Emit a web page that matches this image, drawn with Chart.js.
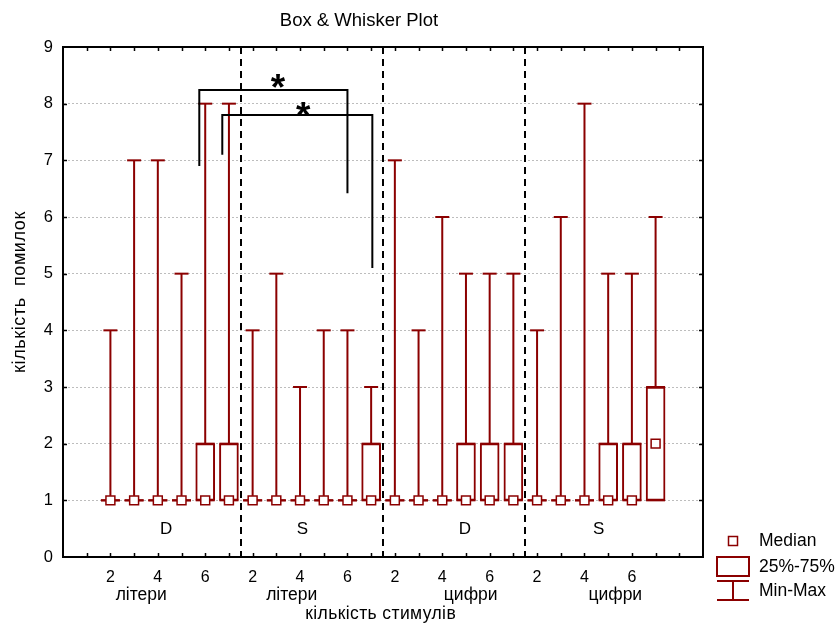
<!DOCTYPE html>
<html>
<head>
<meta charset="utf-8">
<script src="https://cdn.jsdelivr.net/npm/chart.js@4.4.0/dist/chart.umd.min.js"></script>
<style>
  html, body { margin: 0; padding: 0; background: #fff; }
  #wrap { width: 838px; height: 623px; }
</style>
</head>
<body>
<div id="wrap"><canvas id="chart" width="838" height="623"></canvas></div>
<script>
// --- data (x = slot on the axis, one slot per tick) ---
const positions = [2, 3, 4, 5, 6, 7, 8, 9, 10, 11, 12, 13, 14, 15, 16, 17, 18, 19, 20, 21, 22, 23, 24, 25];
const mins    = [1, 1, 1, 1, 1, 1, 1, 1, 1, 1, 1, 1, 1, 1, 1, 1, 1, 1, 1, 1, 1, 1, 1, 1];
const q1s     = [1, 1, 1, 1, 1, 1, 1, 1, 1, 1, 1, 1, 1, 1, 1, 1, 1, 1, 1, 1, 1, 1, 1, 1];
const medians = [1, 1, 1, 1, 1, 1, 1, 1, 1, 1, 1, 1, 1, 1, 1, 1, 1, 1, 1, 1, 1, 1, 1, 2];
const q3s     = [1, 1, 1, 1, 2, 2, 1, 1, 1, 1, 1, 2, 1, 1, 1, 2, 2, 2, 1, 1, 1, 2, 2, 3];
const maxs    = [4, 7, 7, 5, 8, 8, 4, 5, 3, 4, 4, 3, 7, 4, 6, 5, 5, 5, 4, 6, 8, 5, 5, 6];

const xTickPos  = [2, 4, 6, 8, 10, 12, 14, 16, 18, 20, 22, 24];
const xTickText = ['2', '4', '6', '2', '4', '6', '2', '4', '6', '2', '4', '6'];
const groupLetters = ['D', 'S', 'D', 'S'];
const groupStimuli = ['літери', 'літери', 'цифри', 'цифри'];
const separators = [7.5, 13.5, 19.5];

// significance brackets (axis units)
const brackets = [
  { x1: 5.75, x2: 12.0, y: 8.24, yLeft: 6.9, yRight: 6.42, starX: 9.07, starY: 8.43 },
  { x1: 6.72, x2: 13.05, y: 7.8, yLeft: 7.1, yRight: 5.1, starX: 10.13, starY: 7.95 }
];

// --- layout / style ---
const RED = '#8b0000';
const FONT = '"Liberation Sans", Arial, sans-serif';
const letterX = [4.35, 10.1, 16.95, 22.6];
const letterY = 0.49;
const stimuliX = [3.3, 9.65, 17.2, 23.3];

const boxData = positions.map((x, i) => ({ x: x, y: [q1s[i], q3s[i]] }));
const whiskerData = [];
positions.forEach((x, i) => {
  whiskerData.push({ x: x, y: mins[i] }, { x: x, y: maxs[i] }, { x: x, y: null });
});
const capData = positions.map((x, i) => ({ x: x, y: maxs[i] }));
const edgeData = [];
positions.forEach((x, i) => { edgeData.push({ x: x, y: q1s[i] }, { x: x, y: q3s[i] }); });
const medianData = positions.map((x, i) => ({ x: x, y: medians[i] }));

const decor = {
  id: 'decor',
  afterDatasetsDraw(chart) {
    const { ctx, chartArea: a, scales: { x, y } } = chart;
    ctx.save();
    // dashed separators
    ctx.strokeStyle = '#000';
    ctx.lineWidth = 2;
    ctx.setLineDash([7, 5]);
    separators.forEach(s => {
      const px = Math.round(x.getPixelForValue(s));
      ctx.beginPath(); ctx.moveTo(px, a.top); ctx.lineTo(px, a.bottom); ctx.stroke();
    });
    ctx.setLineDash([]);
    // brackets
    ctx.lineWidth = 2;
    brackets.forEach(b => {
      const x1 = x.getPixelForValue(b.x1), x2 = x.getPixelForValue(b.x2);
      const yy = y.getPixelForValue(b.y);
      ctx.beginPath();
      ctx.moveTo(x1, y.getPixelForValue(b.yLeft));
      ctx.lineTo(x1, yy);
      ctx.lineTo(x2, yy);
      ctx.lineTo(x2, y.getPixelForValue(b.yRight));
      ctx.stroke();
      ctx.fillStyle = '#000';
      ctx.font = 'bold 37px ' + FONT;
      ctx.textAlign = 'center';
      ctx.textBaseline = 'alphabetic';
      ctx.fillText('*', x.getPixelForValue(b.starX), y.getPixelForValue(b.starY) + 21);
    });
    ctx.restore();
  },
  afterDraw(chart) {
    const { ctx, chartArea: a, scales: { x, y } } = chart;
    ctx.save();
    // top and right frame
    ctx.strokeStyle = '#000';
    ctx.lineWidth = 2;
    ctx.beginPath();
    ctx.moveTo(a.left, a.top); ctx.lineTo(a.right, a.top); ctx.lineTo(a.right, a.bottom);
    ctx.stroke();
    // inward tick marks
    ctx.lineWidth = 1.5;
    ctx.beginPath();
    for (let v = 1; v < 27; v++) {
      const px = Math.round(x.getPixelForValue(v)) + 0.5;
      ctx.moveTo(px, a.top); ctx.lineTo(px, a.top + 4);
      ctx.moveTo(px, a.bottom); ctx.lineTo(px, a.bottom - 4);
    }
    for (let v = 1; v < 9; v++) {
      const py = Math.round(y.getPixelForValue(v)) + 0.5;
      ctx.moveTo(a.left, py); ctx.lineTo(a.left + 4, py);
      ctx.moveTo(a.right, py); ctx.lineTo(a.right - 4, py);
    }
    ctx.stroke();

    ctx.fillStyle = '#000';
    ctx.textAlign = 'center';
    ctx.textBaseline = 'middle';
    ctx.font = '17px ' + FONT;
    groupLetters.forEach((t, i) => ctx.fillText(t, x.getPixelForValue(letterX[i]), y.getPixelForValue(letterY)));
    ctx.font = '17.5px ' + FONT;
    groupStimuli.forEach((t, i) => ctx.fillText(t, x.getPixelForValue(stimuliX[i]), a.bottom + 38));
    ctx.font = '18.5px ' + FONT;
    ctx.fillText('Box & Whisker Plot', 359, 21);

    ctx.font = '17.5px ' + FONT;
    ctx.letterSpacing = '0.4px';
    ctx.fillText('кількість стимулів', x.getPixelForValue(13.4), a.bottom + 57);
    // y title
    ctx.save();
    ctx.translate(20, 292);
    ctx.rotate(-Math.PI / 2);
    ctx.font = '18px ' + FONT;
    ctx.letterSpacing = '0.6px';
    ctx.fillText('кількість  помилок', 0, 0);
    ctx.restore();
    ctx.letterSpacing = '0px';

    // legend
    const lx = a.right + 30;
    ctx.strokeStyle = RED;
    ctx.fillStyle = '#fff';
    ctx.fillRect(lx - 4.5, a.bottom - 20.5, 9, 9);
    ctx.lineWidth = 1.5;
    ctx.strokeRect(lx - 4.5, a.bottom - 20.5, 9, 9);
    ctx.lineWidth = 2;
    ctx.strokeRect(lx - 16, a.bottom, 32, 19);
    ctx.beginPath();
    ctx.moveTo(lx - 16, a.bottom + 24); ctx.lineTo(lx + 16, a.bottom + 24);
    ctx.moveTo(lx, a.bottom + 24); ctx.lineTo(lx, a.bottom + 43);
    ctx.moveTo(lx - 16, a.bottom + 43); ctx.lineTo(lx + 16, a.bottom + 43);
    ctx.stroke();
    ctx.fillStyle = '#000';
    ctx.textAlign = 'left';
    ctx.font = '17.5px ' + FONT;
    ctx.fillText('Median', lx + 26, a.bottom - 16);
    ctx.fillText('25%-75%', lx + 26, a.bottom + 10);
    ctx.fillText('Min-Max', lx + 26, a.bottom + 34);
    ctx.restore();
  }
};

new Chart(document.getElementById('chart'), {
  type: 'bar',
  data: {
    datasets: [
      { type: 'scatter', data: medianData, order: 0, pointStyle: 'rect', pointRadius: 6.3,
        backgroundColor: '#fff', borderColor: RED, borderWidth: 1.5 },
      { type: 'scatter', data: capData, order: 1, pointStyle: 'line', pointRadius: 7,
        borderColor: RED, borderWidth: 2 },
      { type: 'scatter', data: edgeData, order: 1, pointStyle: 'line', pointRadius: 9.5,
        borderColor: RED, borderWidth: 2 },
      { type: 'bar', data: boxData, order: 2, grouped: false, barThickness: 19,
        backgroundColor: '#fff', borderColor: RED, borderWidth: 2, borderSkipped: false },
      { type: 'line', data: whiskerData, order: 3, borderColor: RED, borderWidth: 2,
        pointRadius: 0, spanGaps: false, fill: false }
    ]
  },
  options: {
    responsive: false,
    animation: false,
    layout: { padding: { top: 47, right: 135, left: 0, bottom: 0 } },
    plugins: { legend: { display: false }, tooltip: { enabled: false } },
    scales: {
      x: {
        type: 'linear', min: 0, max: 27, offset: false,
        afterFit: s => { s.height = 66; },
        grid: { display: false, drawTicks: false },
        border: { display: true, color: '#000', width: 2 },
        ticks: {
          stepSize: 1, autoSkip: false, maxRotation: 0, padding: 11,
          color: '#000', font: { family: FONT, size: 16 },
          callback: v => { const i = xTickPos.indexOf(v); return i >= 0 ? xTickText[i] : ''; }
        }
      },
      y: {
        min: 0, max: 9,
        afterFit: s => { s.width = 63; },
        grid: { color: '#bdbdbd', lineWidth: 1, drawTicks: false },
        border: { display: true, color: '#000', width: 2, dash: [2, 2] },
        ticks: { stepSize: 1, padding: 10, color: '#000', font: { family: FONT, size: 16.5 } }
      }
    }
  },
  plugins: [decor]
});
</script>
</body>
</html>
